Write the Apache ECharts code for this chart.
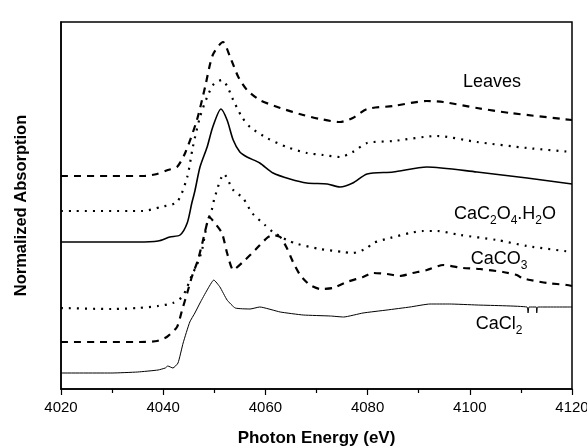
<!DOCTYPE html>
<html>
<head>
<meta charset="utf-8">
<script src="https://cdn.jsdelivr.net/npm/echarts@6/dist/echarts.min.js"></script>
<style>
html,body{margin:0;padding:0;background:#fff;}
#chart{width:587px;height:447px;}
</style>
</head>
<body>
<div id="chart"></div>
<script>
// Photon energy (eV) / normalized absorption (arbitrary offset units)
const leaves = [[4020,2.13],[4030,2.13],[4036,2.13],[4038.8,2.15],[4040.9,2.19],[4042.7,2.22],[4044.3,2.36],[4046.6,2.69],[4048.2,3.02],[4049.7,3.34],[4051.7,3.47],[4053.1,3.32],[4054.7,3.12],[4056.4,2.99],[4058.9,2.89],[4062.9,2.81],[4067.4,2.74],[4070.7,2.70],[4074.6,2.67],[4077.1,2.71],[4079.9,2.80],[4085.0,2.83],[4091.6,2.88],[4094.8,2.87],[4101.4,2.81],[4107.9,2.76],[4120,2.69]];
const leaves2 = [[4020,1.78],[4036,1.78],[4039.5,1.82],[4042.7,1.87],[4044.7,2.12],[4045.8,2.42],[4047.2,2.72],[4048.6,2.92],[4049.9,3.05],[4051.5,3.09],[4052.5,3.03],[4053.7,2.89],[4055.4,2.72],[4057.0,2.62],[4060.3,2.51],[4064.2,2.42],[4068.1,2.36],[4071.3,2.34],[4074.6,2.32],[4077.1,2.37],[4079.9,2.46],[4085.0,2.48],[4093.6,2.53],[4101.4,2.47],[4111.2,2.41],[4120,2.37]];
const leaves3 = [[4020,1.47],[4035,1.47],[4039,1.48],[4041.3,1.52],[4043.3,1.54],[4044.7,1.66],[4045.6,1.86],[4046.2,1.98],[4047.2,2.22],[4048.6,2.42],[4049.7,2.62],[4051.3,2.80],[4052.5,2.69],[4053.7,2.49],[4055.0,2.37],[4056.4,2.32],[4058.9,2.26],[4061.5,2.16],[4064.8,2.10],[4068.1,2.06],[4072.1,2.05],[4074.6,2.02],[4077.1,2.06],[4079.9,2.15],[4085.0,2.17],[4091.6,2.22],[4101.4,2.17],[4111.2,2.11],[4120,2.05]];
const oxalate = [[4020,0.81],[4030,0.80],[4035,0.81],[4039,0.83],[4041.9,0.86],[4043.7,0.92],[4044.7,1.02],[4045.6,1.14],[4046.6,1.24],[4047.6,1.39],[4048.6,1.66],[4049.5,1.79],[4050.1,1.92],[4051.9,2.15],[4053.7,1.99],[4055.6,1.91],[4057.4,1.76],[4059.9,1.64],[4061.5,1.57],[4064.2,1.49],[4066.3,1.45],[4070.7,1.40],[4075.3,1.37],[4077.1,1.36],[4079.9,1.41],[4081.1,1.46],[4084.4,1.51],[4088.3,1.56],[4090.8,1.58],[4093.6,1.58],[4098.1,1.54],[4105.3,1.49],[4111.2,1.43],[4120,1.37]];
const carbonate = [[4020,0.47],[4030,0.47],[4035.5,0.47],[4038.8,0.48],[4040.7,0.52],[4042.7,0.62],[4043.7,0.79],[4044.7,0.96],[4045.6,1.12],[4046.8,1.29],[4047.8,1.49],[4048.6,1.66],[4049.0,1.72],[4050.1,1.66],[4051.5,1.56],[4052.5,1.36],[4053.7,1.19],[4055.6,1.27],[4058.0,1.39],[4060.3,1.51],[4061.5,1.54],[4062.9,1.52],[4064.2,1.41],[4065.4,1.27],[4066.8,1.14],[4068.7,1.04],[4070.7,1.00],[4073.2,1.01],[4075.9,1.07],[4079.1,1.12],[4081.1,1.16],[4083.8,1.15],[4086.3,1.13],[4088.8,1.16],[4091.6,1.19],[4094.8,1.24],[4098.7,1.21],[4102.0,1.20],[4106.5,1.17],[4109.2,1.14],[4110.2,1.11],[4111.8,1.09],[4115.1,1.06],[4119.0,1.04],[4120,1.03]];
const chloride = [[4020,0.16],[4030,0.16],[4035,0.17],[4039,0.19],[4040.4,0.21],[4040.9,0.23],[4041.9,0.21],[4042.9,0.26],[4043.9,0.46],[4045.2,0.67],[4046.2,0.76],[4047.2,0.86],[4048.6,0.99],[4049.9,1.09],[4051.1,1.02],[4052.5,0.89],[4054.1,0.81],[4057.0,0.80],[4058.9,0.82],[4062.9,0.77],[4067.4,0.74],[4072.7,0.73],[4075.3,0.72],[4079.1,0.76],[4083.8,0.79],[4088.3,0.82],[4092.2,0.85],[4096,0.85],[4101.4,0.84],[4111.2,0.82],[4111.4,0.76],[4111.6,0.82],[4113.0,0.82],[4113.1,0.76],[4113.3,0.82],[4120,0.82]];
const xTicks = {min: 4020, max: 4120, step: 20};
const labels = [
  {text: 'Leaves', x: 492, y: 82},
  {text: 'CaC{s|2}O{s|4}.H{s|2}O', x: 505, y: 214},
  {text: 'CaCO{s|3}', x: 499, y: 259},
  {text: 'CaCl{s|2}', x: 499, y: 324}
];

const FONT = '"Liberation Sans", Arial, Helvetica, sans-serif';
const chart = echarts.init(document.getElementById('chart'), null, {renderer: 'canvas'});
function line(data, type, width, smooth) {
  return {
    type: 'line', data: data, showSymbol: false, smooth: smooth,
    lineStyle: {color: '#000', width: width, type: type, cap: 'butt', join: 'round'}, silent: true, animation: false
  };
}
chart.setOption({
  animation: false,
  grid: {left: 61, right: 15, top: 22, bottom: 58, containLabel: false, outerBoundsMode: 'none',
         show: true, borderColor: '#000', borderWidth: 1.5},
  xAxis: {
    type: 'value', min: xTicks.min, max: xTicks.max, interval: xTicks.step,
    axisLine: {show: true, onZero: false, lineStyle: {color: '#000', width: 1.5}},
    axisTick: {show: true, inside: false, length: 6, lineStyle: {color: '#000', width: 1.2}},
    minorTick: {show: true, splitNumber: 2, length: 4, lineStyle: {color: '#000', width: 1.2}},
    splitLine: {show: false},
    axisLabel: {color: '#000', fontSize: 15, fontFamily: FONT, margin: 11, formatter: v => String(v)},
    name: 'Photon Energy (eV)', nameLocation: 'middle', nameGap: 41,
    nameTextStyle: {color: '#000', fontSize: 17, fontWeight: 'bold', fontFamily: FONT}
  },
  yAxis: {
    type: 'value', min: 0, max: 3.67,
    axisLine: {show: true, lineStyle: {color: '#000', width: 1.5}},
    axisTick: {show: false}, axisLabel: {show: false}, splitLine: {show: false},
    name: 'Normalized Absorption', nameLocation: 'middle', nameGap: 31,
    nameTextStyle: {color: '#000', fontSize: 16.5, fontWeight: 'bold', fontFamily: FONT}
  },
  series: [
    line(leaves, [7, 6], 2.2, 0.25),
    line(leaves2, [2, 6], 2.2, 0.25),
    line(leaves3, 'solid', 1.6, 0.25),
    line(oxalate, [2, 6], 2.2, 0.25),
    line(carbonate, [7, 6], 2.2, 0.2),
    line(chloride, 'solid', 1, 0.15)
  ],
  graphic: labels.map(l => ({
    type: 'text', x: l.x, y: l.y,
    style: {
      text: l.text, fill: '#000', font: '18px ' + FONT, align: 'center', verticalAlign: 'middle',
      rich: {s: {fontSize: 12, fontFamily: FONT, fill: '#000', padding: [14, 0, 0, 0]}}
    }
  }))
});
</script>
</body>
</html>
